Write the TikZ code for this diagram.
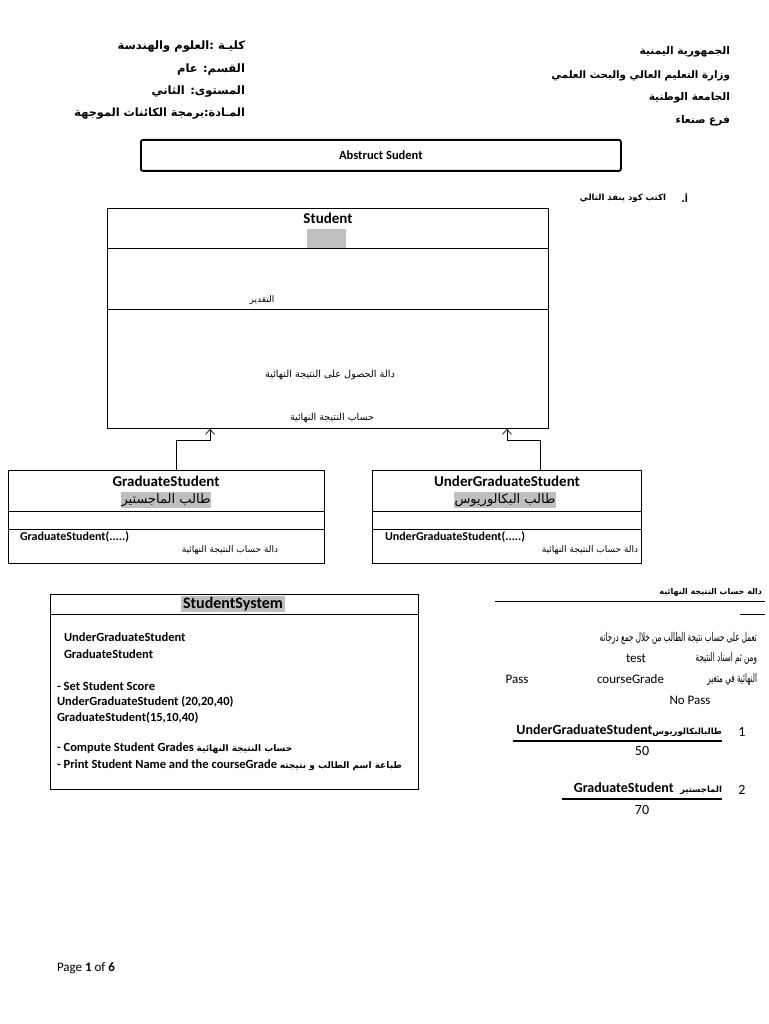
\documentclass[tikz,border=0pt]{standalone}
\usepackage{fontspec}
\usepackage{graphicx}
\setmainfont{Carlito}
\newfontfamily\ar[Script=Arabic]{DejaVu Sans}
\TeXXeTstate=1
\usetikzlibrary{arrows.meta,calc}
\definecolor{hl}{RGB}{191,191,191}
\newcommand\arf[1]{\ar\fontsize{#1}{#1}\selectfont}
\newcommand\arbf[1]{\ar\bfseries\fontsize{#1}{#1}\selectfont}
\newcommand\lat[2]{{\fontsize{#1}{#1}\selectfont #2}}
\newcommand\latb[2]{{\bfseries\fontsize{#1}{#1}\selectfont #2}}
\begin{document}
\begin{tikzpicture}[x=1pt,y=-1pt,
  txt/.style={inner sep=0pt, outer sep=0pt},
  box/.style={draw, line width=0.8pt, inner sep=0pt, anchor=north west},
  hlbox/.style={fill=hl, inner xsep=1pt, inner ysep=1.5pt},
  inh/.style={-{Straight Barb[length=5pt,width=9pt]}, line width=0.7pt},
  rule/.style={line width=0.8pt}]
\useasboundingbox[fill=white] (0,0) rectangle (768,1024);

% header left
\node[txt, anchor=east] (hl1) at (245,47) {\arbf{11.5}\beginR كليـة :العلوم والهندسة\endR};
\node[txt, anchor=east] (hl2) at (245,70) {\arbf{11.5}\beginR القسم: عام\endR};
\node[txt, anchor=east] (hl3) at (245,92) {\arbf{11.5}\beginR المستوى: الثاني\endR};
\node[txt, anchor=east] (hl4) at (245,114) {\arbf{11.3}\beginR المـادة:برمجة الكائنات الموجهة\endR};
% header right
\node[txt, anchor=east] (hr1) at (730,52) {\arbf{10.6}\beginR الجمهورية اليمنية\endR};
\node[txt, anchor=east] (hr2) at (730,76) {\arbf{10.3}\beginR وزارة التعليم العالي والبحث العلمي\endR};
\node[txt, anchor=east] (hr3) at (730,98) {\arbf{10.6}\beginR الجامعة الوطنية\endR};
\node[txt, anchor=east] (hr4) at (730,121) {\arbf{10.6}\beginR فرع صنعاء\endR};

% title box
\node[draw, line width=1.8pt, rounded corners=2pt, minimum width=480pt, minimum height=31pt, inner sep=0pt, anchor=north west] (abs) at (140,139) {\latb{12.5}{Abstruct Sudent}};

\node[txt, anchor=east] (qa) at (688,198) {\arbf{9}\beginR أ.\endR};
\node[txt, anchor=east] (qtext) at (666,198) {\arbf{8.5}\beginR اكتب كود ينفذ التالي\endR};

% Student
\node[box, minimum width=441pt, minimum height=220pt] (student) at (107,208) {};
\draw[rule] (107,248) -- (548,248);
\draw[rule] (107,309) -- (548,309);
\node[txt] (sname) at (328,218) {\latb{15}{Student}};
\node[fill=hl, minimum width=39pt, minimum height=19pt, inner sep=0pt, anchor=north west] (sgray) at (307,229) {};
\node[txt] (sgrade) at (262,300) {\arf{9}\beginR التقدير\endR};
\node[txt] (sget) at (330,375) {\arf{9.7}\beginR دالة الحصول على النتيجة النهائية\endR};
\node[txt] (scalc) at (332,418) {\arf{9.5}\beginR حساب النتيجة النهائية\endR};

% GraduateStudent
\node[box, minimum width=316pt, minimum height=93pt] (grad) at (8,470) {};
\draw[rule] (8,511) -- (324,511);
\draw[rule] (8,529) -- (324,529);
\node[txt] (gname) at (166,481) {\latb{15}{GraduateStudent}};
\node[txt, hlbox] (gar) at (166,500) {\arf{13}\beginR طالب الماجستير\endR};
\node[txt, anchor=west] (gctor) at (20,537) {\latb{12}{GraduateStudent(.....)}};
\node[txt] (gfun) at (230,550) {\arf{9}\beginR دالة حساب النتيجة النهائية\endR};

% UnderGraduateStudent
\node[box, minimum width=269pt, minimum height=93pt] (ugrad) at (372,470) {};
\draw[rule] (372,511) -- (641,511);
\draw[rule] (372,529) -- (641,529);
\node[txt] (uname) at (507,481) {\latb{15}{UnderGraduateStudent}};
\node[txt, hlbox] (uar) at (505,500) {\arf{13}\beginR طالب البكالوريوس\endR};
\node[txt, anchor=west] (uctor) at (385,537) {\latb{12}{UnderGraduateStudent(.....)}};
\node[txt] (ufun) at (590,550) {\arf{9}\beginR دالة حساب النتيجة النهائية\endR};

% inheritance arrows
\draw[inh] ($(grad.north west)+(168,0)$) |- ($(student.south west)+(103,12)$) -- ($(student.south west)+(103,0)$);
\draw[inh] ($(ugrad.north west)+(168,0)$) |- ($(student.south west)+(400,12)$) -- ($(student.south west)+(400,0)$);

% StudentSystem
\node[box, minimum width=368pt, minimum height=195pt] (sys) at (50,594) {};
\draw[rule] (50,614) -- (418,614);
\node[txt, hlbox, inner xsep=2pt] (sysname) at (233,604) {\latb{16}{StudentSystem}};
\node[txt, anchor=west] (s1) at (64,637) {\latb{12.5}{UnderGraduateStudent}};
\node[txt, anchor=west] (s2) at (64,654) {\latb{12.5}{GraduateStudent}};
\node[txt, anchor=west] (s3) at (57,686) {\latb{12.5}{- Set Student Score}};
\node[txt, anchor=west] (s4) at (57,702) {\latb{12.5}{UnderGraduateStudent (20,20,40)}};
\node[txt, anchor=west] (s5) at (57,718) {\latb{12.5}{GraduateStudent(15,10,40)}};
\node[txt, anchor=west] (s6) at (57,748) {\latb{12.5}{- Compute Student Grades }{\arbf{9}\beginR حساب النتيجة النهائية\endR}};
\node[txt, anchor=west] (s7) at (57,765) {\latb{12.5}{- Print Student Name and the courseGrade }{\arbf{9}\beginR طباعة اسم الطالب و نتيجته\endR}};

% right notes
\node[txt, anchor=east] (rtitle) at (762,592) {\arbf{8}\beginR دالة حساب النتيجة النهائية\endR};
\draw[rule] (495,601) -- (765,601);
\draw[rule] (740,614) -- (765,614);
\node[txt, anchor=east] (p1) at (757,638) {\scalebox{0.6}[1]{\arf{12}\beginR تعمل على حساب نتيجة الطالب من خلال جمع درجاته\endR}};
\node[txt, anchor=east] (p2) at (757,658) {\scalebox{0.6}[1]{\arf{12}\beginR ومن ثم اسناد النتيجة\endR}};
\node[txt, anchor=west] (p2t) at (626,658) {\lat{13}{test}};
\node[txt, anchor=east] (p3) at (757,679) {\scalebox{0.6}[1]{\arf{12}\beginR النهائية في متغير\endR}};
\node[txt, anchor=east] (p3c) at (664,679) {\lat{13}{courseGrade}};
\node[txt] (pass) at (517,679) {\lat{13}{Pass}};
\node[txt] (nopass) at (690,700) {\lat{13}{No Pass}};

\node[txt] (n1) at (742,732) {\lat{14}{1}};
\node[txt, anchor=east] (i1) at (722,731) {\latb{14}{UnderGraduateStudent}{\arbf{8.5}\beginR طالبالبكالوريوس\endR}};
\draw[line width=1.5pt] (513,741) -- (722,741);
\node[txt] (v1) at (642,751) {\lat{14}{50}};
\node[txt] (n2) at (742,790) {\lat{14}{2}};
\node[txt, anchor=east] (i2) at (722,789) {\latb{14}{GraduateStudent\ \ }{\arbf{8.5}\beginR الماجستير\endR}};
\draw[line width=1.5pt] (562,799) -- (722,799);
\node[txt] (v2) at (642,810) {\lat{14}{70}};

% footer
\node[txt, anchor=west] (page) at (57,968) {\lat{13}{Page \textbf{1} of \textbf{6}}};
\end{tikzpicture}
\end{document}
